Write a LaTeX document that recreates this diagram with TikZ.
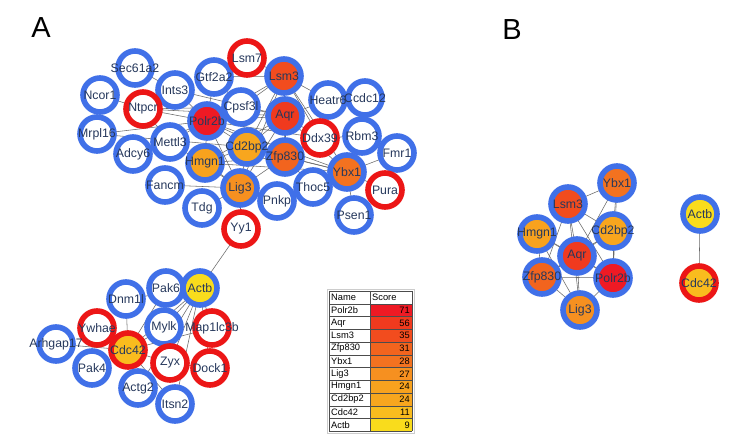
\documentclass[tikz,border=0pt]{standalone}
\usepackage{fontspec}
\setmainfont{Liberation Sans}
\pgfdeclarelayer{edges}
\pgfdeclarelayer{labels}
\pgfsetlayers{edges,main,labels}
\definecolor{rb}{RGB}{64,112,232}
\definecolor{rr}{RGB}{236,22,22}
\definecolor{txt}{RGB}{38,56,92}
\definecolor{edgec}{RGB}{105,105,105}
\definecolor{cPolr}{RGB}{238,26,36}
\definecolor{cAqr}{RGB}{240,58,30}
\definecolor{cLsm}{RGB}{242,76,30}
\definecolor{cZfp}{RGB}{242,100,30}
\definecolor{cYbx}{RGB}{243,114,32}
\definecolor{cLig}{RGB}{246,144,32}
\definecolor{cHmg}{RGB}{248,162,30}
\definecolor{cCd}{RGB}{248,166,30}
\definecolor{cCdc}{RGB}{249,188,30}
\definecolor{cActb}{RGB}{249,220,28}
\tikzset{
  gn/.style={circle, minimum size=34pt, inner sep=0pt, line width=5.6pt},
  lab/.style={inner sep=0pt, text=txt, font=\fontsize{12.3}{12.3}\selectfont},
  edge/.style={draw=edgec, line width=0.55pt},
  tab/.style={inner sep=0pt, font=\fontsize{9.3}{9.3}\selectfont},
  panel/.style={inner sep=0pt, font=\fontsize{29}{29}\selectfont}
}
\begin{document}
\begin{tikzpicture}[x=1pt,y=-1pt]
\useasboundingbox (0,0) rectangle (754,443);
\begin{pgfonlayer}{edges}
\fill[white] (0,0) rectangle (754,443);
\end{pgfonlayer}

\node[panel] (pA) at (41,28) {A};
\node[panel] (pB) at (512,30) {B};

% ---------- panel A nodes ----------
\foreach \n/\x/\y/\r/\f in {
 Sec61a2/135/68/rb/white, Ncor1/100/95/rb/white, Ints3/175/90/rb/white,
 Gtf2a2/214/77/rb/white, Lsm3/284/76/rb/cLsm, Lsm7/247/58/rr/white,
 Ntpcr/143/109/rr/white, Mrpl16/97/134/rb/white, Cpsf3l/241/107/rb/white,
 Polr2b/207/121/rb/cPolr, Aqr/285/116/rb/cAqr, Heatr6/328/100/rb/white,
 Ccdc12/365/98/rb/white, Ddx39/320/138/rr/white, Rbm3/362/136/rb/white,
 Fmr1/397/153/rb/white, Adcy6/133/154/rb/white, Mettl3/170/142/rb/white,
 Hmgn1/205/163/rb/cHmg, Cd2bp2/247/147/rb/cCd, Zfp830/285/157/rb/cZfp,
 Ybx1/347/172/rb/cYbx, Pura/385/190/rr/white, Fancm/165/185/rb/white,
 Lig3/240/188/rb/cLig, Thoc5/313/187/rb/white, Pnkp/277/201/rb/white,
 Tdg/202/208/rb/white, Psen1/354/215/rb/white, Yy1/241/229/rr/white,
 Pak6/166/288/rb/white, Actb/200/288/rb/cActb, Dnm1l/126/299/rb/white,
 Mylk/164/327/rb/white, Map1lc3b/212/328/rr/white, Ywhae/97/328/rr/white,
 Cdc42/128/350/rr/cCdc, Arhgap17/56/344/rb/white, Pak4/92/368/rb/white,
 Zyx/170/363/rr/white, Dock1/210/368/rr/white, Actg2/138/388/rb/white,
 Itsn2/175/404/rb/white}
 {\node[gn, draw=\r, fill=\f] (\n) at (\x,\y) {};}

% ---------- panel B nodes ----------
\foreach \n/\x/\y/\r/\f in {
 Ybx1/617/183/rb/cYbx, Lsm3/568/204/rb/cLsm, Hmgn1/537/234/rb/cHmg,
 Cd2bp2/613/231/rb/cCd, Aqr/577/256/rb/cAqr, Zfp830/542/277/rb/cZfp,
 Polr2b/613/278/rb/cPolr, Lig3/580/310/rb/cLig, Actb/700/214/rb/cActb,
 Cdc42/699/283/rr/cCdc}
 {\node[gn, draw=\r, fill=\f] (b\n) at (\x,\y) {};}

% ---------- edges ----------
\begin{pgfonlayer}{edges}
\foreach \a/\b in {
 Polr2b/Ntpcr, Polr2b/Ints3, Polr2b/Gtf2a2, Polr2b/Cpsf3l, Polr2b/Mettl3,
 Polr2b/Mrpl16, Polr2b/Hmgn1, Polr2b/Cd2bp2, Polr2b/Aqr, Polr2b/Lsm3,
 Polr2b/Zfp830, Polr2b/Lig3, Polr2b/Ybx1, Polr2b/Ddx39, Polr2b/Adcy6,
 Aqr/Lsm3, Aqr/Cpsf3l, Aqr/Cd2bp2, Aqr/Zfp830, Aqr/Lig3, Aqr/Hmgn1,
 Aqr/Ybx1, Aqr/Heatr6, Aqr/Ddx39, Aqr/Ntpcr, Aqr/Ints3,
 Lsm3/Gtf2a2, Lsm3/Lsm7, Lsm3/Cpsf3l, Lsm3/Heatr6, Lsm3/Ddx39,
 Lsm3/Zfp830, Lsm3/Cd2bp2, Lsm3/Ybx1, Lsm3/Lig3,
 Zfp830/Ybx1, Zfp830/Cd2bp2, Zfp830/Lig3, Zfp830/Hmgn1, Zfp830/Thoc5,
 Zfp830/Ddx39, Ybx1/Rbm3, Ybx1/Fmr1, Ybx1/Pura, Ybx1/Psen1, Ybx1/Thoc5,
 Ybx1/Cd2bp2, Ybx1/Hmgn1, Lig3/Hmgn1, Lig3/Cd2bp2, Lig3/Tdg, Lig3/Fancm,
 Lig3/Pnkp, Lig3/Yy1, Lig3/Mettl3, Hmgn1/Cd2bp2, Cd2bp2/Cpsf3l,
 Ddx39/Rbm3, Ntpcr/Ncor1, Ntpcr/Mettl3, Ntpcr/Cpsf3l, Sec61a2/Ints3,
 Mrpl16/Cd2bp2, Gtf2a2/Cpsf3l, Heatr6/Ccdc12,
 Yy1/Actb,
 Actb/Pak6, Actb/Mylk, Actb/Map1lc3b, Actb/Zyx, Actb/Dock1, Actb/Cdc42,
 Actb/Dnm1l, Actb/Actg2, Actb/Itsn2,
 Cdc42/Ywhae, Cdc42/Arhgap17, Cdc42/Pak4, Cdc42/Dnm1l, Cdc42/Mylk,
 Cdc42/Zyx, Cdc42/Actg2, Cdc42/Itsn2, Cdc42/Pak6, Cdc42/Map1lc3b,
 Zyx/Dock1,
 bYbx1/bLsm3, bYbx1/bCd2bp2, bYbx1/bAqr, bYbx1/bPolr2b,
 bLsm3/bCd2bp2, bLsm3/bAqr, bLsm3/bZfp830, bLsm3/bPolr2b, bLsm3/bLig3,
 bHmgn1/bAqr, bHmgn1/bZfp830, bHmgn1/bLig3, bHmgn1/bPolr2b,
 bCd2bp2/bAqr, bCd2bp2/bPolr2b, bCd2bp2/bZfp830,
 bAqr/bPolr2b, bAqr/bZfp830, bAqr/bLig3,
 bZfp830/bPolr2b, bZfp830/bLig3, bPolr2b/bLig3,
 bActb/bCdc42}
 {\draw[edge] (\a.center) -- (\b.center);}
\end{pgfonlayer}

% ---------- labels ----------
\begin{pgfonlayer}{labels}
\foreach \n in {Sec61a2, Ncor1, Ints3, Gtf2a2, Lsm3, Lsm7, Ntpcr, Mrpl16,
 Cpsf3l, Polr2b, Aqr, Heatr6, Ccdc12, Ddx39, Rbm3, Fmr1, Adcy6, Mettl3,
 Hmgn1, Cd2bp2, Zfp830, Ybx1, Pura, Fancm, Lig3, Thoc5, Pnkp, Tdg, Psen1,
 Yy1, Pak6, Actb, Dnm1l, Mylk, Map1lc3b, Ywhae, Cdc42, Arhgap17, Pak4,
 Zyx, Dock1, Actg2, Itsn2}
 {\node[lab] (l\n) at (\n) {\n};}
\foreach \n in {Ybx1, Lsm3, Hmgn1, Cd2bp2, Aqr, Zfp830, Polr2b, Lig3, Actb, Cdc42}
 {\node[lab] (lb\n) at (b\n) {\n};}
\end{pgfonlayer}

% ---------- table ----------
\draw[black!20, line width=0.6pt] (327,289) rectangle (414,433);
\foreach \i/\nm/\sc/\col in {1/Polr2b/71/cPolr, 2/Aqr/56/cAqr, 3/Lsm3/35/cLsm,
 4/Zfp830/31/cZfp, 5/Ybx1/28/cYbx, 6/Lig3/27/cLig, 7/Hmgn1/24/cHmg,
 8/Cd2bp2/24/cCd, 9/Cdc42/11/cCdc, 10/Actb/9/cActb}
 {\fill[\col] (370,{291+12.75*\i}) rectangle (412,{303.75+12.75*\i});
  \node[tab, anchor=west] (tn\i) at (331,{297.4+12.75*\i}) {\nm};
  \node[tab, anchor=east] (ts\i) at (410,{297.4+12.75*\i}) {\sc};}
\node[tab, anchor=west] (thn) at (331,297.4) {Name};
\node[tab, anchor=west] (ths) at (372,297.4) {Score};
\foreach \i in {0,...,11}
 {\draw[black!70, line width=0.5pt] (329,{291+12.75*\i}) -- (412,{291+12.75*\i});}
\draw[black!70, line width=0.5pt] (329,291) -- (329,431.25);
\draw[black!70, line width=0.5pt] (370,291) -- (370,431.25);
\draw[black!70, line width=0.5pt] (412,291) -- (412,431.25);
\end{tikzpicture}
\end{document}
